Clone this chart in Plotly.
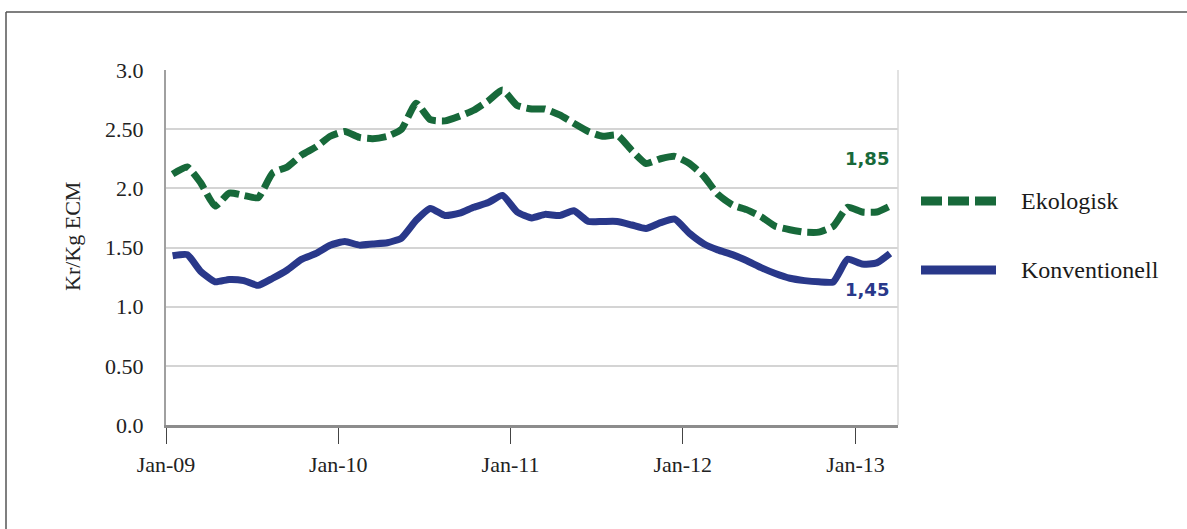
import plotly.graph_objects as go
import pandas as pd

# Monthly milk price, Jan 2009 - Mar 2013 (Kr per kg ECM), plotted at mid-month
months = pd.date_range("2009-01-01", "2013-03-01", freq="MS") + pd.Timedelta(days=14)

ekologisk = [
    2.12, 2.18, 2.05, 1.85, 1.96, 1.94, 1.92, 2.13, 2.18, 2.28, 2.35, 2.44,
    2.48, 2.43, 2.42, 2.44, 2.50, 2.72, 2.58, 2.57, 2.61, 2.66, 2.74, 2.83,
    2.70, 2.67, 2.67, 2.62, 2.55, 2.48, 2.44, 2.45, 2.32, 2.21, 2.25, 2.27,
    2.21, 2.10, 1.95, 1.86, 1.82, 1.76, 1.68, 1.65, 1.63, 1.63, 1.68, 1.84,
    1.80, 1.80, 1.85,
]

konventionell = [
    1.43, 1.44, 1.30, 1.21, 1.23, 1.22, 1.18, 1.24, 1.31, 1.40, 1.45, 1.52,
    1.55, 1.52, 1.53, 1.54, 1.58, 1.73, 1.83, 1.77, 1.79, 1.84, 1.88, 1.94,
    1.80, 1.75, 1.78, 1.77, 1.81, 1.72, 1.72, 1.72, 1.69, 1.66, 1.71, 1.74,
    1.62, 1.53, 1.48, 1.44, 1.39, 1.33, 1.28, 1.24, 1.22, 1.21, 1.21, 1.40,
    1.36, 1.37, 1.45,
]

y_ticks = [0.0, 0.5, 1.0, 1.5, 2.0, 2.5, 3.0]
y_tick_labels = ["0.0", "0.50", "1.0", "1.50", "2.0", "2.50", "3.0"]

x_tick_dates = ["2009-01-01", "2010-01-01", "2011-01-01", "2012-01-01", "2013-01-01"]
x_tick_labels = ["Jan-09", "Jan-10", "Jan-11", "Jan-12", "Jan-13"]

series_names = ["Ekologisk", "Konventionell"]
end_labels = ["1,85", "1,45"]

GREEN = "#17693a"
BLUE = "#29388a"
SERIF = "Liberation Serif"

W, H = 1187, 529
L, R, T, B = 166, 898, 70, 425


def px(x):
    return (x - L) / (R - L)


def py(y):
    return (B - y) / (B - T)


fig = go.Figure()

fig.add_trace(go.Scatter(
    x=months, y=ekologisk, mode="lines", name=series_names[0],
    line=dict(color=GREEN, width=7, dash="19px,6px", shape="spline", smoothing=0.5),
    showlegend=False,
))
fig.add_trace(go.Scatter(
    x=months, y=konventionell, mode="lines", name=series_names[1],
    line=dict(color=BLUE, width=7, shape="spline", smoothing=0.5),
    showlegend=False,
))

shapes = [
    # outer frame (left and top edges)
    dict(type="line", xref="paper", yref="paper", x0=px(6), x1=px(W + 5), y0=py(12), y1=py(12),
         line=dict(color="#555555", width=1.5)),
    dict(type="line", xref="paper", yref="paper", x0=px(6), x1=px(6), y0=py(12), y1=py(H + 5),
         line=dict(color="#555555", width=1.5)),
    # right edge of plot area
    dict(type="line", xref="paper", yref="paper", x0=1, x1=1, y0=0, y1=1,
         line=dict(color="#d9d9d9", width=1.5)),
    # legend swatches
    dict(type="line", xref="paper", yref="paper", x0=px(921), x1=px(996), y0=py(201), y1=py(201),
         line=dict(color=GREEN, width=9, dash="21px,6px")),
    dict(type="line", xref="paper", yref="paper", x0=px(921), x1=px(996), y0=py(270), y1=py(270),
         line=dict(color=BLUE, width=9)),
]

annotations = [
    dict(text="Kr/Kg ECM", textangle=-90, xref="paper", yref="paper", x=px(72), y=py(237),
         xanchor="center", yanchor="middle",
         showarrow=False, font=dict(family=SERIF, size=22, color="#222222")),
    dict(text=f"<b>{end_labels[0]}</b>", xref="paper", yref="paper", x=px(867), y=py(158),
         xanchor="center", yanchor="middle",
         showarrow=False, font=dict(family="DejaVu Sans", size=18, color=GREEN)),
    dict(text=f"<b>{end_labels[1]}</b>", xref="paper", yref="paper", x=px(867), y=py(289),
         xanchor="center", yanchor="middle",
         showarrow=False, font=dict(family="DejaVu Sans", size=18, color=BLUE)),
    dict(text=series_names[0], xref="paper", yref="paper", x=px(1019), y=py(201),
         xanchor="left", yanchor="middle",
         showarrow=False, font=dict(family=SERIF, size=24, color="#1a1a1a")),
    dict(text=series_names[1], xref="paper", yref="paper", x=px(1019), y=py(270),
         xanchor="left", yanchor="middle",
         showarrow=False, font=dict(family=SERIF, size=24, color="#1a1a1a")),
]

fig.update_layout(
    width=W, height=H,
    margin=dict(l=L, r=W - R, t=T, b=H - B, pad=0),
    paper_bgcolor="white", plot_bgcolor="white",
    shapes=shapes, annotations=annotations,
    showlegend=False,
)

fig.update_xaxes(
    type="date", range=["2009-01-01", "2013-04-01"],
    tickvals=x_tick_dates, ticktext=x_tick_labels,
    ticks="outside", ticklen=16, tickwidth=1.3, tickcolor="#444444",
    ticklabelstandoff=2,
    showline=True, linecolor="#8c8c8c", linewidth=2.5,
    showgrid=False, zeroline=False,
    tickfont=dict(family=SERIF, size=22, color="#222222"),
)

fig.update_yaxes(
    range=[0, 3], tickvals=y_ticks, ticktext=y_tick_labels,
    showgrid=True, gridcolor="#d4d4d4", gridwidth=1.5,
    showline=True, linecolor="#a0a0a0", linewidth=2,
    ticks="", ticklabelstandoff=16, zeroline=False,
    tickfont=dict(family=SERIF, size=22, color="#222222"),
)

fig.write_html("out.html")
